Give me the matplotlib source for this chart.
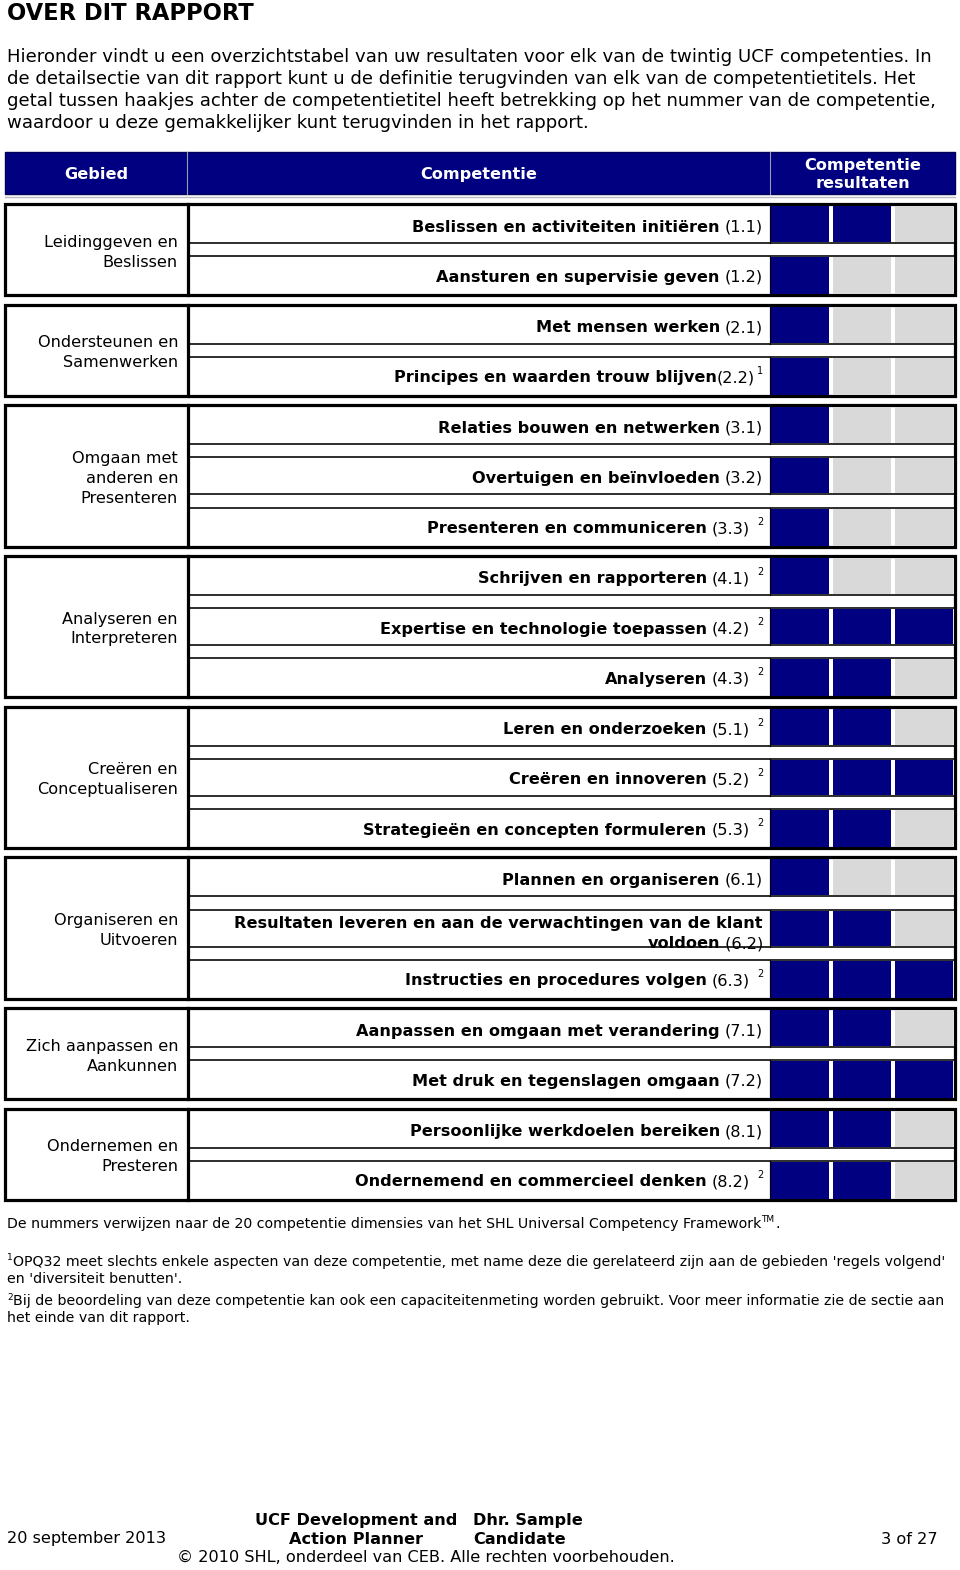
import matplotlib
matplotlib.use("Agg")
import matplotlib.pyplot as plt
from matplotlib.patches import Rectangle

plt.rcParams['font.family'] = ['DejaVu Sans']

# ---------------- data ----------------
gebieden = ["Leidinggeven en\nBeslissen", "Ondersteunen en\nSamenwerken",
            "Omgaan met\nanderen en\nPresenteren", "Analyseren en\nInterpreteren",
            "Creëren en\nConceptualiseren", "Organiseren en\nUitvoeren",
            "Zich aanpassen en\nAankunnen", "Ondernemen en\nPresteren"]
group_sizes = [2, 2, 3, 3, 3, 3, 2, 2]
competenties = ["Beslissen en activiteiten initiëren", "Aansturen en supervisie geven",
                "Met mensen werken", "Principes en waarden trouw blijven",
                "Relaties bouwen en netwerken", "Overtuigen en beïnvloeden",
                "Presenteren en communiceren",
                "Schrijven en rapporteren", "Expertise en technologie toepassen", "Analyseren",
                "Leren en onderzoeken", "Creëren en innoveren", "Strategieën en concepten formuleren",
                "Plannen en organiseren",
                "Resultaten leveren en aan de verwachtingen van de klant\nvoldoen",
                "Instructies en procedures volgen",
                "Aanpassen en omgaan met verandering", "Met druk en tegenslagen omgaan",
                "Persoonlijke werkdoelen bereiken", "Ondernemend en commercieel denken"]
codes = ["1.1", "1.2", "2.1", "2.2", "3.1", "3.2", "3.3", "4.1", "4.2", "4.3",
         "5.1", "5.2", "5.3", "6.1", "6.2", "6.3", "7.1", "7.2", "8.1", "8.2"]
notes = ["", "", "", "1", "", "", "2", "2", "2", "2",
         "2", "2", "2", "", "", "2", "", "", "", "2"]
scores = [2, 1, 1, 1, 1, 1, 1, 1, 3, 2, 2, 3, 2, 1, 2, 3, 2, 3, 2, 2]
max_score = 3
headers = ["Gebied", "Competentie", "Competentie\nresultaten"]

intro = ["Hieronder vindt u een overzichtstabel van uw resultaten voor elk van de twintig UCF competenties. In",
         "de detailsectie van dit rapport kunt u de definitie terugvinden van elk van de competentietitels. Het",
         "getal tussen haakjes achter de competentietitel heeft betrekking op het nummer van de competentie,",
         "waardoor u deze gemakkelijker kunt terugvinden in het rapport."]

# ---------------- layout ----------------
W, H = 960, 1570
BLUE = "#000080"
GREY = "#d9d9d9"
fig = plt.figure(figsize=(W / 100, H / 100), dpi=100)
ax = fig.add_axes([0, 0, 1, 1])
ax.set_xlim(0, W)
ax.set_ylim(H, 0)
ax.axis("off")
renderer = fig.canvas.get_renderer()

def px2pt(p):
    return p * 72 / 100

def text_width(t):
    bb = t.get_window_extent(renderer=renderer)
    return bb.width

FS_BODY = 13.1
FS_LABEL = 11.6
FS_NOTE = 10.15
FS_FOOT = 11.6
DY = 2  # text vertical nudge

ax.text(7, 12 + DY, "OVER DIT RAPPORT", fontsize=16.3, fontweight="bold", va="center", ha="left")
for i, line in enumerate(intro):
    ax.text(7, 55 + DY + 22 * i, line, fontsize=FS_BODY, va="center", ha="left")

# header
hx = [5, 187, 770, 955]
ax.add_patch(Rectangle((5, 152), 950, 42, facecolor=BLUE, edgecolor="#00005a", lw=1))
for xv in hx[1:3]:
    ax.plot([xv, xv], [152, 194], color="#9a9ab8", lw=0.8)
for i, h in enumerate(headers):
    cx = (hx[i] + hx[i + 1]) / 2
    ax.text(cx, 173.5 + 1, h, color="white", fontsize=FS_LABEL, fontweight="bold",
            ha="center", va="center", linespacing=1.3)
ax.plot([5, 955], [197, 197], color="#bbbbbb", lw=1)

# rows
y0 = 225.0
pitch = 50.26
row = 0
cell_x = [771, 833, 895]
cell_w = 58
for g, n in enumerate(group_sizes):
    first = y0 + pitch * row
    last = y0 + pitch * (row + n - 1)
    top = first - 21
    bot = last + 20
    ax.add_patch(Rectangle((5, top), 950, bot - top, facecolor="white",
                           edgecolor="black", lw=px2pt(3.2), zorder=3))
    ax.plot([187.5, 187.5], [top, bot], color="black", lw=px2pt(3.2), zorder=4)
    ax.text(178, (first + last) / 2 + DY, gebieden[g], fontsize=FS_LABEL, ha="right",
            va="center", linespacing=1.4, zorder=5)
    for k in range(n):
        r = row + k
        yc = y0 + pitch * r
        rt = yc - 19 if k > 0 else top
        rb = yc + 18 if k < n - 1 else bot
        if k > 0:
            ax.plot([188, 955], [rt, rt], color="black", lw=px2pt(1.6), zorder=4)
        if k < n - 1:
            ax.plot([188, 955], [rb, rb], color="black", lw=px2pt(1.6), zorder=4)
        for c in range(max_score):
            col = BLUE if c < scores[r] else GREY
            ax.add_patch(Rectangle((cell_x[c], rt + (1 if k > 0 else 2)), cell_w,
                                   (rb - rt) - 2 - (0 if k > 0 else 1),
                                   facecolor=col, edgecolor="none", zorder=3.5))
        ax.plot([770, 770], [rt, rb], color="black", lw=px2pt(1.2), zorder=4)
        # label
        right = 763
        ty = yc + DY
        if "\n" in competenties[r]:
            l1, l2 = competenties[r].split("\n")
            ax.text(right, yc - 5, l1, fontsize=FS_LABEL, fontweight="bold", ha="right",
                    va="center", zorder=5)
            tc = ax.text(right, yc + 15, " (" + codes[r] + ")", fontsize=FS_LABEL,
                         ha="right", va="center", zorder=3.8)
            wc = text_width(tc)
            ax.text(right - wc, yc + 15, l2, fontsize=FS_LABEL, fontweight="bold",
                    ha="right", va="center", zorder=3.8)
            continue
        if notes[r]:
            ts = ax.text(right, ty - 7, notes[r], fontsize=7, ha="right", va="center", zorder=5)
            ws = text_width(ts) + (2 if notes[r] == "1" else 7)
            right -= ws
        tc = ax.text(right, ty, "(" + codes[r] + ")", fontsize=FS_LABEL, ha="right",
                     va="center", zorder=5)
        wc = text_width(tc)
        sep = 0 if notes[r] == "1" else 5
        ax.text(right - wc - sep, ty, competenties[r], fontsize=FS_LABEL, fontweight="bold",
                ha="right", va="center", zorder=5)
    row += n

# footnotes
fn0 = "De nummers verwijzen naar de 20 competentie dimensies van het SHL Universal Competency Framework"
t = ax.text(7, 1222 + DY, fn0, fontsize=FS_NOTE, ha="left", va="center")
wtm = text_width(t)
ax.text(7 + wtm, 1218 + DY, "TM", fontsize=6.5, ha="left", va="center")
ax.text(7 + wtm + 14, 1222 + DY, ".", fontsize=FS_NOTE, ha="left", va="center")

foot = [("1", "OPQ32 meet slechts enkele aspecten van deze competentie, met name deze die gerelateerd zijn aan de gebieden 'regels volgend'", 1260),
        ("", "en 'diversiteit benutten'.", 1277),
        ("2", "Bij de beoordeling van deze competentie kan ook een capaciteitenmeting worden gebruikt. Voor meer informatie zie de sectie aan", 1299),
        ("", "het einde van dit rapport.", 1316)]
for sup, txt, yy in foot:
    x = 7
    if sup:
        ts = ax.text(x, yy - 4 + DY, sup, fontsize=6.5, ha="left", va="center")
        x += text_width(ts) + 0.5
    ax.text(x, yy + DY, txt, fontsize=FS_NOTE, ha="left", va="center")

# page footer
FY = 3
ax.text(7, 1536 + FY, "20 september 2013", fontsize=FS_FOOT, ha="left", va="center")
ax.text(356, 1517 + FY, "UCF Development and", fontsize=FS_FOOT, fontweight="bold", ha="center", va="center")
ax.text(356, 1536 + FY, "Action Planner", fontsize=FS_FOOT, fontweight="bold", ha="center", va="center")
ax.text(473, 1517 + FY, "Dhr. Sample", fontsize=FS_FOOT, fontweight="bold", ha="left", va="center")
ax.text(473, 1536 + FY, "Candidate", fontsize=FS_FOOT, fontweight="bold", ha="left", va="center")
ax.text(938, 1536 + FY, "3 of 27", fontsize=FS_FOOT, ha="right", va="center")
ax.text(426, 1555 + FY, "© 2010 SHL, onderdeel van CEB. Alle rechten voorbehouden.", fontsize=FS_FOOT,
        ha="center", va="center")

fig.savefig("out.png", dpi=100)
